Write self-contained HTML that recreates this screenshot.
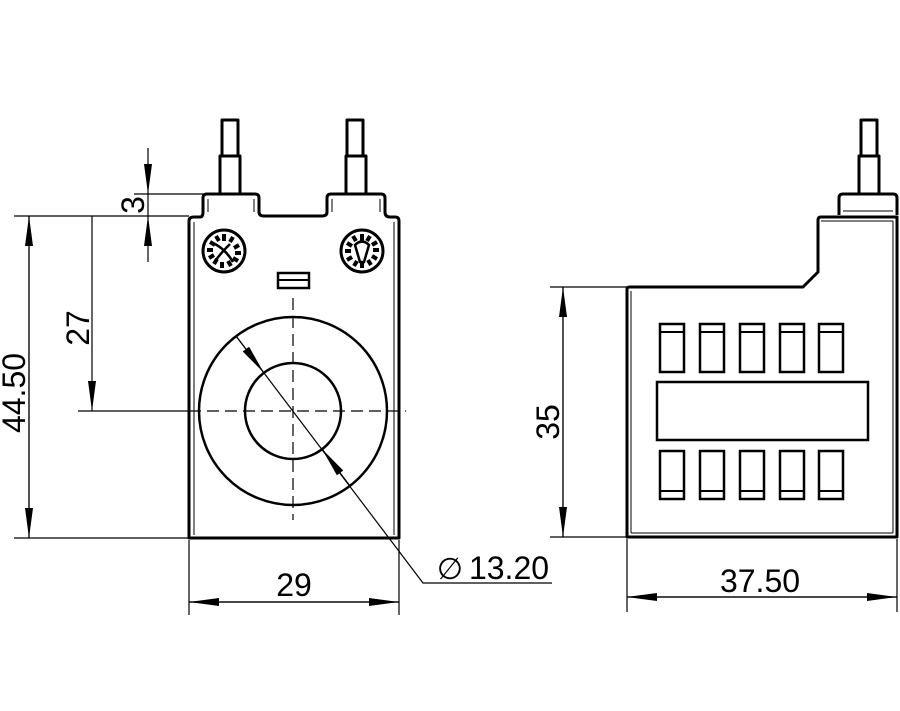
<!DOCTYPE html>
<html><head><meta charset="utf-8"><style>html,body{margin:0;padding:0;background:#fff}svg{display:block}</style></head>
<body>
<svg width="900" height="711" viewBox="0 0 900 711" xmlns="http://www.w3.org/2000/svg" font-family="Liberation Sans, sans-serif">
<defs>
<marker id="a" viewBox="0 0 30 8" refX="30" refY="4" markerWidth="30" markerHeight="8" markerUnits="userSpaceOnUse" orient="auto"><path d="M0,0 L30,4 L0,8 Z" fill="#000"/></marker>
</defs>
<g fill="none" stroke="#000">
<g stroke-width="3" stroke-linejoin="round">
<rect x="222" y="120" width="16" height="36"/>
<rect x="220" y="156" width="20" height="38"/>
<rect x="347" y="120" width="16" height="36"/>
<rect x="346" y="156" width="20" height="38"/>
<path d="M189,538 L189,221 Q189,217 194,217 L200,217 Q203,217 203,212 L203,198 Q203,194 207,194 L255,194 Q259,194 259,198 L259,212 Q259,216 264,216 L322,216 Q327,216 327,212 L327,198 Q327,194 331,194 L381,194 Q385,194 385,198 L385,212 Q385,217 390,217 L395,217 Q399,217 399,221 L399,538 Z"/>
</g>
<path d="M194,535 L194,222 M394,222 L394,535 M208,199 L208,212 M254,199 L254,212 M332,199 L332,212 M380,199 L380,212" stroke-width="1"/>
<rect x="278" y="273" width="31" height="15" stroke-width="2.5"/>
<line x1="278" y1="280" x2="309" y2="280" stroke-width="2"/>
<circle cx="224" cy="251" r="21" stroke-width="3"/>
<circle cx="362" cy="251" r="21" stroke-width="3"/>
<g stroke-width="4">
<path d="M224,234v7M233,237l-3,5M239,245l-5,3M241,253h-6M238,261l-5,-3M231,266l-3,-5M222,268v-6M214,264l3,-5M209,258l5,-3M207,250h6M210,242l5,3M216,236l3,5"/>
<path d="M362,234v7M370,236l-3,5M377,242l-5,3M379,250h-6M377,259l-5,-3M371,265l-3,-5M362,268v-6M354,266l3,-5M347,260l5,-3M345,251h6M347,243l5,3M353,236l3,5"/>
</g>
<path d="M215,244 Q226,250 233,262 M230,244 Q220,254 216,260" stroke-width="2.5"/>
<path d="M355,245 Q362,238 369,245 L364,262 L360,262 Z" stroke-width="2.5"/>
<circle cx="293" cy="411" r="94" stroke-width="2.5"/>
<circle cx="293" cy="411" r="48" stroke-width="2.5"/>
<line x1="189" y1="411" x2="406" y2="411" stroke-width="1.2" stroke-dasharray="12,6"/>
<line x1="293" y1="298" x2="293" y2="520" stroke-width="1.2" stroke-dasharray="12,6"/>
<g stroke-width="1.2">
<line x1="14" y1="216" x2="189" y2="216"/>
<line x1="14" y1="538" x2="189" y2="538"/>
<line x1="78" y1="411" x2="189" y2="411"/>
<line x1="134" y1="194" x2="205" y2="194"/>
<line x1="29" y1="538" x2="29" y2="216" marker-end="url(#a)"/>
<line x1="29" y1="216" x2="29" y2="538" marker-end="url(#a)"/>
<line x1="92" y1="216" x2="92" y2="411" marker-end="url(#a)"/>
<line x1="148" y1="148" x2="148" y2="194" marker-end="url(#a)"/>
<line x1="148" y1="262" x2="148" y2="216" marker-end="url(#a)"/>
<line x1="148" y1="194" x2="148" y2="216"/>
<line x1="189" y1="540" x2="189" y2="615"/>
<line x1="399" y1="540" x2="399" y2="615"/>
<line x1="189" y1="602" x2="399" y2="602" marker-end="url(#a)"/>
<line x1="399" y1="602" x2="189" y2="602" marker-end="url(#a)"/>
<polyline points="236,336 423,583 552,583"/>
<line x1="236" y1="336" x2="264" y2="373" marker-end="url(#a)"/>
<line x1="350" y1="486" x2="322" y2="449" marker-end="url(#a)"/>
</g>
<g stroke-width="3" stroke-linejoin="round">
<rect x="861" y="120" width="16" height="36"/>
<rect x="859" y="156" width="20" height="38"/>
<path d="M839,215 L839,198 Q839,194 843,194 L893,194 Q897,194 897,198 L897,215"/>
<path d="M627,537 L627,289 Q627,287 630,287 L803,287 L818,272 L818,220 Q818,217 821,217 L897,217 L897,537 Z"/>
</g>
<path d="M631,533 L631,291 M893,221 L893,533 M631,533 L893,533 M843,211 L893,211 M821,221 L893,221" stroke-width="1"/>
<g stroke-width="2.5">
<rect x="660" y="324" width="24" height="48"/><rect x="700" y="324" width="24" height="48"/><rect x="740" y="324" width="24" height="48"/><rect x="780" y="324" width="24" height="48"/><rect x="819" y="324" width="24" height="48"/>
<path d="M660,332h24M700,332h24M740,332h24M780,332h24M819,332h24" stroke-width="2"/>
<rect x="657" y="382" width="211" height="58"/>
<rect x="660" y="451" width="24" height="48"/><rect x="700" y="451" width="24" height="48"/><rect x="740" y="451" width="24" height="48"/><rect x="780" y="451" width="24" height="48"/><rect x="819" y="451" width="24" height="48"/>
<path d="M660,491h24M700,491h24M740,491h24M780,491h24M819,491h24" stroke-width="2"/>
</g>
<g stroke-width="1.2">
<line x1="550" y1="287" x2="627" y2="287"/>
<line x1="550" y1="537" x2="627" y2="537"/>
<line x1="563" y1="537" x2="563" y2="287" marker-end="url(#a)"/>
<line x1="563" y1="287" x2="563" y2="537" marker-end="url(#a)"/>
<line x1="627" y1="539" x2="627" y2="612"/>
<line x1="897" y1="539" x2="897" y2="612"/>
<line x1="627" y1="597" x2="897" y2="597" marker-end="url(#a)"/>
<line x1="897" y1="597" x2="627" y2="597" marker-end="url(#a)"/>
</g>
</g>
<g font-size="32" fill="#000" text-anchor="middle">
<text x="294" y="596">29</text>
<text x="760" y="592">37.50</text>
<text x="450" y="579" font-size="30">∅</text>
<text x="509" y="579">13.20</text>
<text transform="translate(25,393) rotate(-90)">44.50</text>
<text transform="translate(89,328) rotate(-90)">27</text>
<text transform="translate(144,205) rotate(-90)">3</text>
<text transform="translate(559,422) rotate(-90)">35</text>
</g>
</svg>
</body></html>
